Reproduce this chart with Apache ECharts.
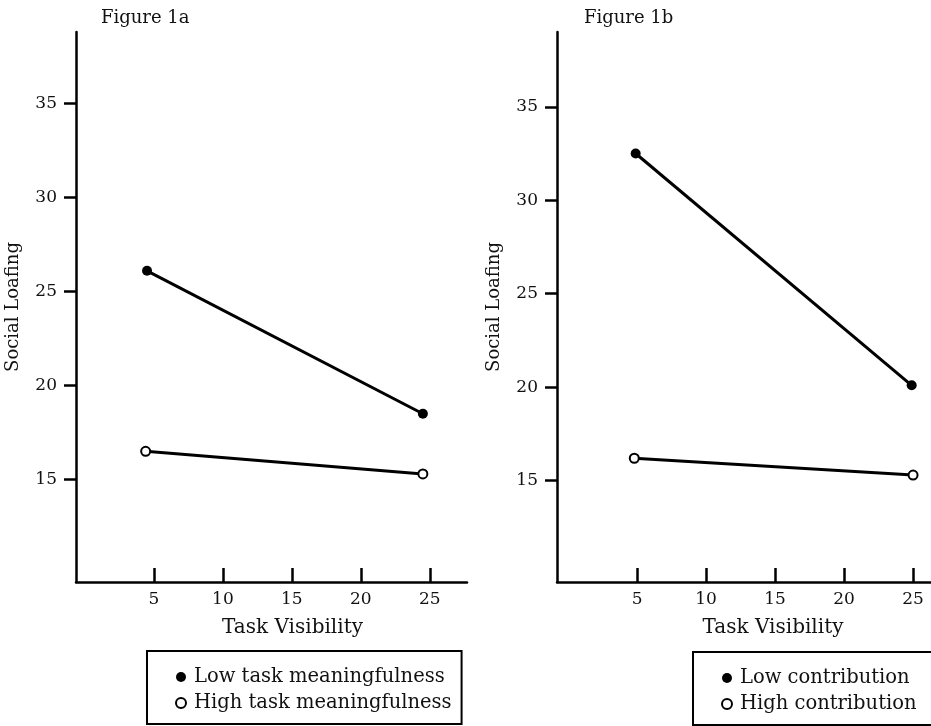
<!DOCTYPE html>
<html>
<head>
<meta charset="utf-8">
<script src="https://cdn.jsdelivr.net/npm/echarts@6/dist/echarts.min.js"></script>
<style>
html,body{margin:0;padding:0;background:#fff;}
#chart{width:931px;height:726px;}
</style>
</head>
<body>
<div id="chart"></div>
<script>
// ---- Data ----
const panelTitles = ['Figure 1a', 'Figure 1b'];
const xTickValues = [5, 10, 15, 20, 25];
const yTickValues = [15, 20, 25, 30, 35];
const xAxisName = 'Task Visibility';
const yAxisName = 'Social Loafing';

// Figure 1a
const seriesNames1a = ['Low task meaningfulness', 'High task meaningfulness'];
const lowMeaningX = [4.5, 24.5];
const lowMeaningY = [26.1, 18.5];
const highMeaningX = [4.4, 24.5];
const highMeaningY = [16.5, 15.3];

// Figure 1b
const seriesNames1b = ['Low contribution', 'High contribution'];
const lowContribX = [4.9, 24.9];
const lowContribY = [32.5, 20.1];
const highContribX = [4.8, 25.0];
const highContribY = [16.2, 15.3];

function pairs(xs, ys) { return xs.map((x, i) => [x, ys[i]]); }

const FONT = 'DejaVu Serif';
const INK = '#111';

const chart = echarts.init(document.getElementById('chart'), null, {renderer: 'canvas'});

function xAxisCfg(gridIndex, min, max, padLeft) {
  return {
    type: 'value', gridIndex: gridIndex, min: min, max: max,
    name: xAxisName, nameLocation: 'middle', nameGap: 36,
    nameTextStyle: {fontFamily: FONT, fontSize: 20, color: INK, padding: [0, 0, 0, padLeft]},
    axisLine: {show: true, onZero: false, lineStyle: {color: '#000', width: 2.5}},
    axisTick: {show: true, inside: true, length: 14, customValues: xTickValues, lineStyle: {color: '#000', width: 2.5}},
    axisLabel: {show: true, margin: 9, customValues: xTickValues, fontFamily: FONT, fontSize: 17, color: INK},
    splitLine: {show: false}
  };
}
function yAxisCfg(gridIndex, min, max) {
  return {
    type: 'value', gridIndex: gridIndex, min: min, max: max,
    name: yAxisName, nameLocation: 'middle', nameGap: 54, nameRotate: 90,
    nameTextStyle: {fontFamily: FONT, fontSize: 18, color: INK},
    axisLine: {show: true, onZero: false, lineStyle: {color: '#000', width: 2.5}},
    axisTick: {show: true, inside: false, length: 12, customValues: yTickValues, lineStyle: {color: '#000', width: 2.5}},
    axisLabel: {show: true, margin: 19, customValues: yTickValues, fontFamily: FONT, fontSize: 17, color: INK},
    splitLine: {show: false}
  };
}

const filledStyle = {color: '#000', borderColor: '#000', borderWidth: 0};
const openStyle = {color: '#fff', borderColor: '#000', borderWidth: 2};

function lineSeries(name, xi, data, filled) {
  return {
    type: 'line', name: name, xAxisIndex: xi, yAxisIndex: xi, data: data,
    symbol: 'circle', symbolSize: filled ? 10 : 9, showSymbol: true,
    lineStyle: {color: '#000', width: 3},
    itemStyle: filled ? filledStyle : openStyle,
    emphasis: {disabled: true}, animation: false, z: 3
  };
}

function legendCfg(left, top, names, padRight) {
  return {
    orient: 'vertical', left: left, top: top,
    data: names.map(n => ({name: n, icon: 'circle'})),
    itemWidth: 10, itemHeight: 10, itemGap: 6,
    padding: [16, padRight, 11, 28],
    borderColor: '#000', borderWidth: 2, borderRadius: 0,
    textStyle: {fontFamily: FONT, fontSize: 19.5, color: INK, padding: [0, 0, 0, 3]},
    selectedMode: false
  };
}

chart.setOption({
  backgroundColor: '#fff',
  animation: false,
  title: [
    {text: panelTitles[0], left: 96, top: 4, textStyle: {fontFamily: FONT, fontSize: 18, fontWeight: 'normal', color: INK}},
    {text: panelTitles[1], left: 579, top: 4, textStyle: {fontFamily: FONT, fontSize: 18, fontWeight: 'normal', color: INK}}
  ],
  grid: [
    {left: 76, top: 32, width: 391, height: 550, containLabel: false},
    {left: 557, top: 32, width: 374, height: 550, containLabel: false}
  ],
  xAxis: [xAxisCfg(0, -0.65, 27.7, 42), xAxisCfg(1, -0.8, 26.3, 58)],
  yAxis: [yAxisCfg(0, 9.55, 38.8), yAxisCfg(1, 9.58, 39.0)],
  legend: [legendCfg(147, 651, seriesNames1a, 10), legendCfg(693, 652, seriesNames1b, 22)],
  series: [
    lineSeries(seriesNames1a[0], 0, pairs(lowMeaningX, lowMeaningY), true),
    lineSeries(seriesNames1a[1], 0, pairs(highMeaningX, highMeaningY), false),
    lineSeries(seriesNames1b[0], 1, pairs(lowContribX, lowContribY), true),
    lineSeries(seriesNames1b[1], 1, pairs(highContribX, highContribY), false)
  ]
});
</script>
</body>
</html>
